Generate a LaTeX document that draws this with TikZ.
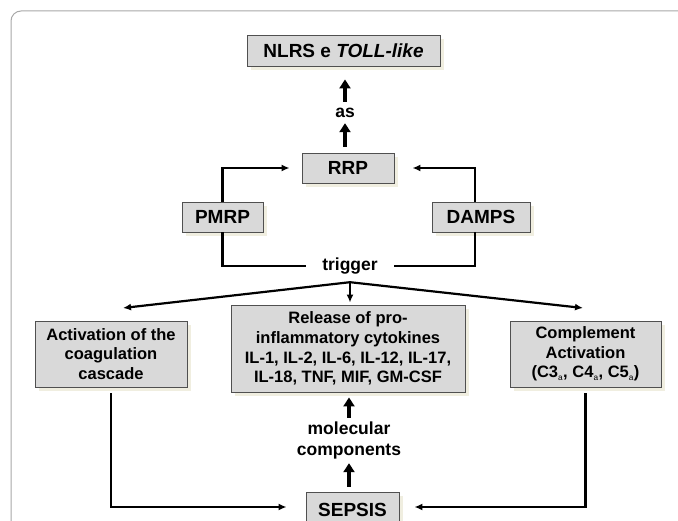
\documentclass[tikz,border=0pt]{standalone}
\usepackage{fontspec}
\setmainfont{Liberation Sans}
\usetikzlibrary{arrows.meta,shadows}
\definecolor{boxfill}{HTML}{D9D9D9}
\definecolor{boxline}{HTML}{505050}
\definecolor{shade}{HTML}{F0EEE0}
\definecolor{framegray}{HTML}{A8A8A8}

\begin{document}
\begin{tikzpicture}[x=1pt, y=-1pt,
        every node/.style={font=\bfseries},
        box/.style={draw=boxline, fill=boxfill, line width=0.9pt, inner sep=0pt, align=center,
            general shadow={fill=shade, shadow xshift=4pt, shadow yshift=-4pt}},
        bigtext/.style={font=\bfseries\fontsize{19}{22}\selectfont},
        smalltext/.style={font=\bfseries\fontsize{16.5}{19.7}\selectfont},
        lbl/.style={font=\bfseries\fontsize{17.5}{21}\selectfont, inner sep=0pt, align=center},
        conn/.style={line width=2.2pt, -{Latex[length=8pt,width=7pt]}},
        fat/.style={line width=4pt, -{Triangle[length=9pt,width=11pt]}}]
        \useasboundingbox (0,0) rectangle (678,521);
        \draw[framegray, line width=1pt, rounded corners=10pt] (678,11) -- (11,11) -- (11,530);

        % boxes
        \node[box, bigtext, minimum width=193pt, minimum height=31pt] (nlrs) at (343.5,50.5) {NLRS e \textit{TOLL-like}};
        \node[box, bigtext, minimum width=92pt, minimum height=30pt] (rrp) at (348,168) {RRP};
        \node[box, bigtext, minimum width=81pt, minimum height=30pt] (pmrp) at (222.5,217) {PMRP};
        \node[box, bigtext, minimum width=98pt, minimum height=30pt] (damps) at (481,217) {DAMPS};
        \node[box, smalltext, minimum width=152pt, minimum height=66pt] (coag) at (111,354) {Activation of the\\coagulation\\cascade};
        \node[box, smalltext, minimum width=234pt, minimum height=87pt] (cyto) at (348,348.5) {Release of pro-\\inflammatory cytokines\\IL-1, IL-2, IL-6, IL-12, IL-17,\\IL-18, TNF, MIF, GM-CSF};
        \node[box, smalltext, minimum width=151pt, minimum height=66pt] (compl) at (585.5,354) {Complement\\Activation\\(C3$_{\scriptscriptstyle\mathrm{a}}$, C4$_{\scriptscriptstyle\mathrm{a}}$, C5$_{\scriptscriptstyle\mathrm{a}}$)};
        \node[box, bigtext, minimum width=93pt, minimum height=36pt] (sepsis) at (352.5,510) {SEPSIS};

        % labels
        \node[lbl, minimum height=21pt] (as) at (345,112.5) {as};
        \node[lbl, minimum width=88pt, minimum height=32pt] (trigger) at (350,266) {trigger};
        \node[lbl, minimum height=45pt] (molec) at (349,440.5) {molecular\\components};
        \coordinate (fanL) at (123,308);
        \coordinate (fanR) at (583,308);

        % connectors
        \draw[fat, shorten <=6pt] (as.south |- rrp.north) -- (as.south);
        \draw[fat, shorten >=13pt] (as.north) -- (as.north |- nlrs.south);
        \draw[conn, shorten >=12pt] (pmrp.north) |- (rrp.west);
        \draw[conn, shorten >=18pt] ([xshift=-6pt]damps.north) |- (rrp.east);
        \draw[line width=2.2pt] (pmrp.south) |- (trigger.west);
        \draw[line width=2.2pt] ([xshift=-6pt]damps.south) |- (trigger.east);
        \draw[conn] (trigger.south) -- (fanL);
        \draw[conn] (trigger.south) -- (fanR);
        \draw[conn, shorten >=2pt] (trigger.south) -- (trigger.south |- cyto.north);
        \draw[fat, shorten >=5pt] (molec.north) -- (molec.north |- cyto.south);
        \draw[fat, shorten <=5pt] (molec.south |- sepsis.north) -- (molec.south);
        \draw[conn, shorten <=6pt, shorten >=19pt] (coag.south) |- ([yshift=3pt]sepsis.west);
        \draw[conn, shorten <=6pt, shorten >=15pt] (compl.south) |- ([yshift=3pt]sepsis.east);
    \end{tikzpicture}
\end{document}
